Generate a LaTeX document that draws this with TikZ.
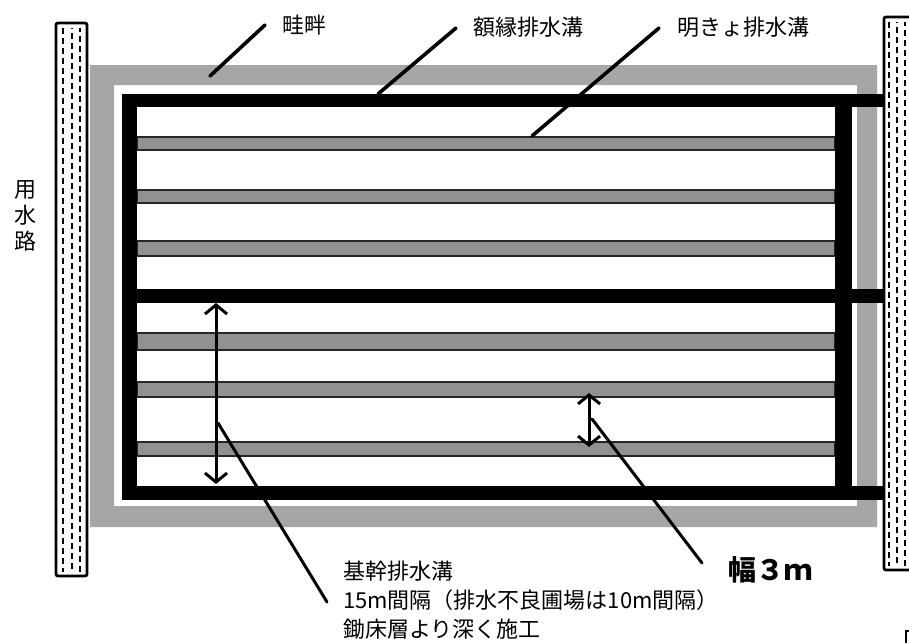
\documentclass[tikz,border=0pt]{standalone}
\usepackage{fontspec}
\setmainfont{Noto Sans CJK JP}
\usetikzlibrary{arrows.meta}
\definecolor{bandgray}{RGB}{166,166,166}
\definecolor{stripegray}{RGB}{145,145,145}
\begin{document}
\begin{tikzpicture}[x=1pt,y=-1pt,
  band/.style={fill=bandgray},
  drainbar/.style={fill=black},
  stripe/.style={fill=stripegray,draw=black!85,line width=1.6pt},
  channel/.style={draw=black,line width=2.8pt,fill=white,rounded corners=2pt},
  dashcol/.style={line width=2pt,dash pattern=on 6pt off 4pt},
  leader/.style={line width=3.6pt,line cap=round},
  tipbarb/.tip={Straight Barb[length=9pt,width=22pt,line width=3pt]},
  dimarrow/.style={line width=3pt,tipbarb-tipbarb},
  lbl/.style={font=\fontsize{22}{26}\selectfont,inner sep=0,anchor=west},
  big/.style={font=\fontsize{28}{32}\selectfont\bfseries,inner sep=0,anchor=west}]
\useasboundingbox (0,0) rectangle (909,643);
\clip (0,0) rectangle (909,643);
\fill[white] (0,0) rectangle (909,643);
% levee band
\fill[band,even odd rule] (90,65) rectangle (877,527) (114,85) rectangle (857,506);
% open ditches (stripes)
\foreach \a/\b in {137/150,190/203,241/256,333/350,382/397,442/456}
  \draw[stripe] (137,\a) rectangle (835,\b);
% drains
\fill[drainbar] (122,94) rectangle (893,107);
\fill[drainbar] (137,289) rectangle (893,303);
\fill[drainbar] (122,486) rectangle (894,500);
\fill[drainbar] (122,94) rectangle (137,500);
\fill[drainbar] (835,94) rectangle (852,500);
% water channels
\draw[channel] (56,23) rectangle (87,576);
\foreach \x/\p in {63/0,72/5,80/2}
  \draw[dashcol,dash phase=\p pt] (\x,28) -- (\x,572);
\draw[channel] (884,17) rectangle (930,570);
\foreach \x/\p in {889/0,897/5,905/2}
  \draw[dashcol,dash phase=\p pt] (\x,22) -- (\x,566);
% dimension arrows
\coordinate (a1) at (216,303);
\coordinate (a2) at (216,484);
\coordinate (b1) at (589,393);
\coordinate (b2) at (589,447);
\draw[dimarrow] (a1) -- (a2);
\draw[dimarrow] (b1) -- (b2);
% labels
\node[lbl] (aze) at (282,25) {畦畔};
\node[lbl] (gaku) at (473,27) {額縁排水溝};
\node[lbl] (akikyo) at (677,27) {明きょ排水溝};
\node[font=\fontsize{22}{26}\selectfont,inner sep=0,align=center,anchor=north] (yosui) at (25,180) {用\\水\\路};
\node[big] (haba) at (728,570) {幅３ｍ};
\node[font=\fontsize{22}{29}\selectfont,inner sep=0,align=left,anchor=north west] (kikan) at (343,561)
  {基幹排水溝\\15m間隔（排水不良圃場は10m間隔）\\鋤床層より深く施工};
% leader lines
\coordinate (azeA) at (210,76);
\coordinate (azeB) at (265,25);
\coordinate (gakuA) at (378,94);
\coordinate (gakuB) at (456,28);
\coordinate (akiA) at (532,136);
\coordinate (akiB) at (659,28);
\coordinate (kikA) at (218,423);
\coordinate (kikB) at (327,602);
\coordinate (habA) at (592,419);
\coordinate (habB) at (702,563);
\draw[leader] (azeA) -- (azeB);
\draw[leader] (gakuA) -- (gakuB);
\draw[leader] (akiA) -- (akiB);
\draw[leader,line width=3pt] (kikA) -- (kikB);
\draw[leader,line width=3pt] (habA) -- (habB);
% small mark at bottom right
\draw[line width=1.2pt] (909,631) -- (906,631) -- (906,643);
\end{tikzpicture}
\end{document}
